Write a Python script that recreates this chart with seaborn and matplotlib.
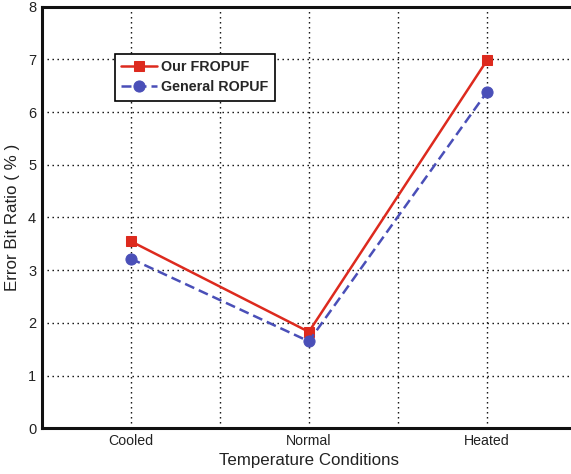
import pandas as pd
import matplotlib.pyplot as plt
import seaborn as sns

# data
conditions = ['Cooled', 'Normal', 'Heated']
fropuf = [3.55, 1.83, 6.98]
ropuf = [3.22, 1.65, 6.38]

sns.set_style('white')
plt.rcParams['font.family'] = ['Liberation Sans', 'DejaVu Sans']

pos = list(range(1, len(conditions) + 1))
df = pd.DataFrame({'x': pos, 'Our FROPUF': fropuf, 'General ROPUF': ropuf})

fig = plt.figure(figsize=(5.71, 4.74), dpi=100)
ax = fig.add_axes([0.073, 0.0964, 0.9357, 0.8895])

red = '#dd2a1e'
blue = '#4a4fb8'
sns.lineplot(data=df, x='x', y='Our FROPUF', ax=ax, color=red, lw=1.8,
             marker='s', markersize=7, markeredgecolor=red, label='Our FROPUF')
sns.lineplot(data=df, x='x', y='General ROPUF', ax=ax, color=blue, lw=1.8,
             linestyle=(0, (4, 2)), marker='o', markersize=8, markeredgecolor=blue,
             label='General ROPUF')

ax.set_xlim(0.5, 3.5)
ax.set_ylim(0, 8)
ax.set_xticks([1, 1.5, 2, 2.5, 3])
ax.set_xticklabels(['Cooled', '', 'Normal', '', 'Heated'], fontsize=10.2)
ax.set_yticks(range(0, 9))
ax.tick_params(axis='y', labelsize=10.5)
ax.tick_params(direction='in', length=3, width=1, color='black', pad=4, labelcolor='#222222')
ax.grid(True, color='black', linestyle=(0, (1, 2.6)), lw=1.0)

for s in ax.spines.values():
    s.set_color('#111111')
    s.set_linewidth(2.2)

ax.set_xlabel('Temperature Conditions', fontsize=12.2, labelpad=4, color='#222222')
ax.set_ylabel('Error Bit Ratio ( % )', fontsize=12.2, labelpad=6, color='#222222')

# matlab-style boxed legend
leg = ax.legend(loc='upper left', bbox_to_anchor=(0.137, 0.888), borderaxespad=0,
                fancybox=False, framealpha=1, edgecolor='black',
                prop={'weight': 'bold', 'size': 10.3},
                handlelength=2.5, handletextpad=0.3, borderpad=0.45, labelspacing=0.4)
leg.get_frame().set_linewidth(1.2)

fig.savefig('out.png', dpi=100)
